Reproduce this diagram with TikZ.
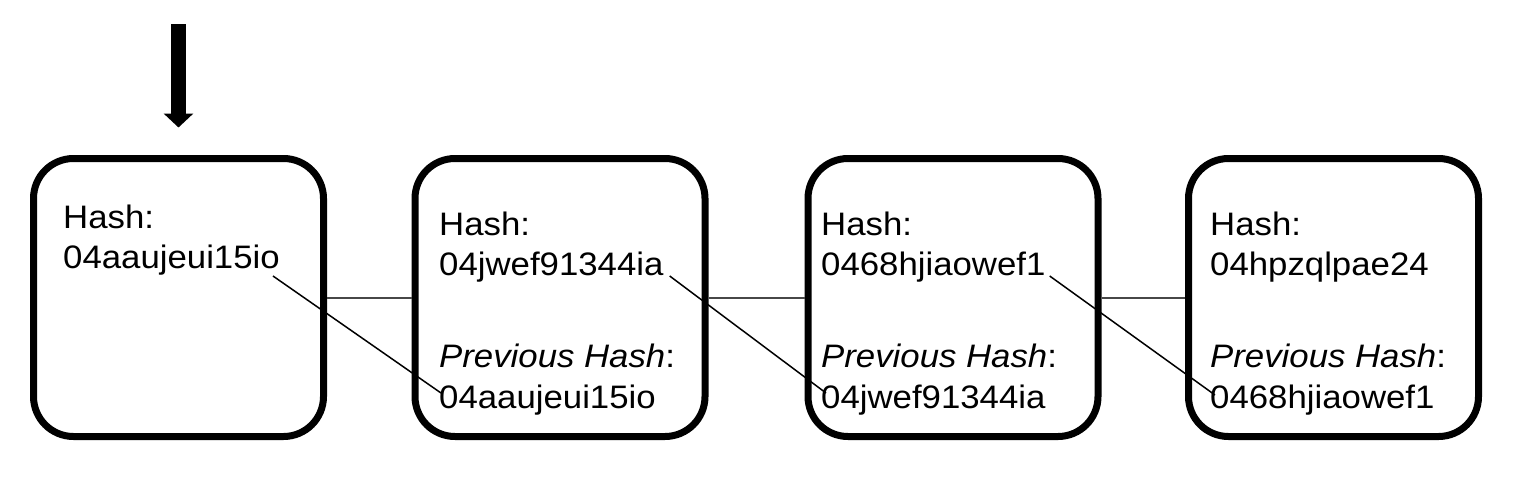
\documentclass[tikz,border=0pt]{standalone}
\usepackage{fontspec}
\setmainfont{Liberation Sans}[FakeStretch=1.07]
\usetikzlibrary{arrows.meta,calc}
\tikzset{
  block/.style={draw=black, line width=7pt, rounded corners=40pt, fill=white,
    minimum width=290pt, minimum height=278pt, inner sep=0pt},
  txt/.style={anchor=base west, inner sep=0pt, font=\fontsize{32.5}{40}\selectfont},
  link/.style={draw=black!72, line width=2pt},
  ref/.style={draw=black, line width=1.5pt},
  pointer/.style={draw=black, line width=15pt, -{Triangle[length=14pt,width=29pt]}}
}
\begin{document}
\begin{tikzpicture}[x=1pt,y=-1pt]
\useasboundingbox (0,0) rectangle (1523,477);
% blocks
\node[block] (b1) at (178.5,297.5) {};
\node[block] (b2) at (560,297.5) {};
\node[block] (b3) at (953,297.5) {};
\node[block] (b4) at (1333.5,297.5) {};
% chain links
\draw[link] (b1.east) -- (b2.west);
\draw[link] (b2.east) -- (b3.west);
\draw[link] (b3.east) -- (b4.west);
% texts
\node[txt] (l1) at (63,228) {Hash:};
\node[txt] (h1) at (63,268) {04aaujeui15io};
\node[txt] (l2) at (439,235) {Hash:};
\node[txt] (h2) at (439,275) {04jwef91344ia};
\node[txt] (q2) at (439,367) {\textit{Previous Hash}:};
\node[txt] (p2) at (439,408) {04aaujeui15io};
\node[txt] (l3) at (821,235) {Hash:};
\node[txt] (h3) at (821,275) {0468hjiaowef1};
\node[txt] (q3) at (821,367) {\textit{Previous Hash}:};
\node[txt] (p3) at (821,408) {04jwef91344ia};
\node[txt] (l4) at (1210,235) {Hash:};
\node[txt] (h4) at (1210,275) {04hpzqlpae24};
\node[txt] (q4) at (1210,367) {\textit{Previous Hash}:};
\node[txt] (p4) at (1210,408) {0468hjiaowef1};
% previous-hash references
\draw[ref] ($(h1.base east)+(-7,8)$) -- ($(p2.base west)+(2,-15)$);
\draw[ref] ($(h2.base east)+(6,1)$) -- ($(p3.base west)+(5,-15)$);
\draw[ref] ($(h3.base east)+(4,1)$) -- ($(p4.base west)+(5,-13)$);
% entry arrow
\coordinate (top) at (178.5,24);
\draw[pointer, shorten >=27.5pt] (top) -- (b1.north);
\end{tikzpicture}
\end{document}
